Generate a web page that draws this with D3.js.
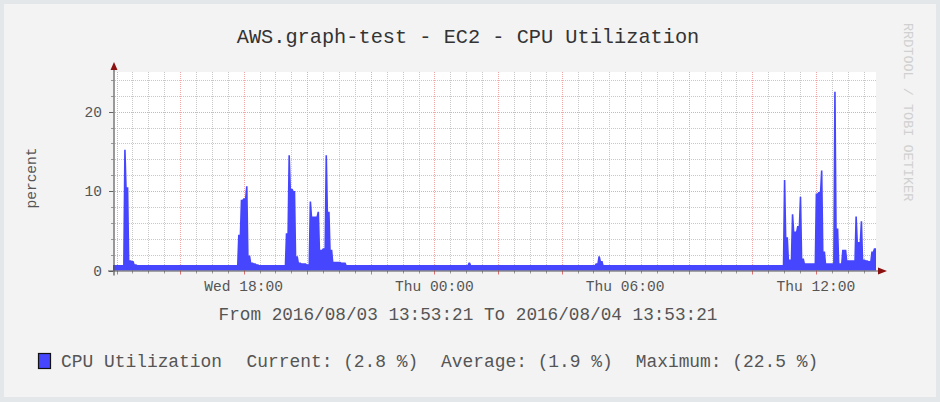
<!DOCTYPE html>
<html><head><meta charset="utf-8">
<script src="https://cdn.jsdelivr.net/npm/d3@7"></script>
<style>
html,body{margin:0;padding:0;background:#e3e7ea;}
svg{display:block;}
text{font-family:"Courier New","Liberation Mono",monospace;}
</style></head><body>
<svg id="c" width="940" height="402"></svg>
<script>
// ---------- data ----------
const chartTitle = "AWS.graph-test - EC2 - CPU Utilization";
const yAxisLabel = "percent";
const seriesName = "CPU Utilization";
const startTime = "2016-08-03T13:53:21";
const endTime = "2016-08-04T13:53:21";
const stepMinutes = 5;
// CPU utilization (%) one value per 5-minute step, 288 steps
const cpuValues = [
  0.7,0.7,0.7,0.7,15.2,10.5,1.3,1.2,0.8,0.7,0.7,0.7,0.7,0.7,0.7,0.7,0.7,0.7,0.7,0.7,0.7,0.7,0.7,0.7,
  0.7,0.7,0.7,0.7,0.7,0.7,0.7,0.7,0.7,0.7,0.7,0.7,0.7,0.7,0.7,0.7,0.7,0.7,0.7,0.7,0.7,0.7,0.7,4.5,
  8.9,9.1,10.6,1.9,1.0,0.9,0.8,0.7,0.7,0.7,0.7,0.7,0.7,0.7,0.7,0.7,0.7,4.7,14.5,10.3,10.0,1.8,1.0,0.9,
  0.9,0.8,8.7,6.8,6.8,7.4,2.6,2.8,14.5,7.4,2.6,1.1,1.1,1.1,1.0,1.0,0.7,0.7,0.7,0.7,0.7,0.7,0.7,0.7,
  0.7,0.7,0.7,0.7,0.7,0.7,0.7,0.7,0.7,0.7,0.7,0.7,0.7,0.7,0.7,0.7,0.7,0.7,0.7,0.7,0.7,0.7,0.7,0.7,
  0.7,0.7,0.7,0.7,0.7,0.7,0.7,0.7,0.7,0.7,0.7,0.7,0.7,0.7,1.0,0.7,0.7,0.7,0.7,0.7,0.7,0.7,0.7,0.7,
  0.7,0.7,0.7,0.7,0.7,0.7,0.7,0.7,0.7,0.7,0.7,0.7,0.7,0.7,0.7,0.7,0.7,0.7,0.7,0.7,0.7,0.7,0.7,0.7,
  0.7,0.7,0.7,0.7,0.7,0.7,0.7,0.7,0.7,0.7,0.7,0.7,0.7,0.7,0.9,1.8,1.2,0.7,0.7,0.7,0.7,0.7,0.7,0.7,
  0.7,0.7,0.7,0.7,0.7,0.7,0.7,0.7,0.7,0.7,0.7,0.7,0.7,0.7,0.7,0.7,0.7,0.7,0.7,0.7,0.7,0.7,0.7,0.7,
  0.7,0.7,0.7,0.7,0.7,0.7,0.7,0.7,0.7,0.7,0.7,0.7,0.7,0.7,0.7,0.7,0.7,0.7,0.7,0.7,0.7,0.7,0.7,0.7,
  0.7,0.7,0.7,0.7,0.7,0.7,0.7,0.7,0.7,0.7,0.7,0.7,0.7,11.4,4.2,1.4,7.1,4.9,5.6,9.3,1.5,0.9,0.9,0.9,
  0.9,9.7,9.9,12.6,2.4,0.9,0.9,0.9,22.5,5.3,0.9,2.6,2.6,1.3,1.3,1.3,6.8,3.6,6.2,1.4,1.3,1.2,2.4,2.8
];
const yTicks = [0, 10, 20];
const yMax = 25;
const xTickTimes = ["2016-08-03T18:00:00","2016-08-04T00:00:00","2016-08-04T06:00:00","2016-08-04T12:00:00"];
const xTickLabels = ["Wed 18:00","Thu 00:00","Thu 06:00","Thu 12:00"];
const statNames = ["Current","Average","Maximum"];
const statValues = [2.8, 1.9, 22.5];
const periodText = "From 2016/08/03 13:53:21 To 2016/08/04 13:53:21";
const watermark = "RRDTOOL / TOBI OETIKER";

// ---------- drawing ----------
const parse = d3.timeParse("%Y-%m-%dT%H:%M:%S");
const t0 = parse(startTime), t1 = parse(endTime);
const svg = d3.select("#c");

const L = 113, R = 876, T = 72, B = 270.5;
const x = d3.scaleTime().domain([t0, t1]).range([L, R]);
const y = d3.scaleLinear().domain([0, yMax]).range([B, T]);

// panel
svg.append("rect").attr("x",0).attr("y",0).attr("width",940).attr("height",402).attr("fill","#e3e7ea");
svg.append("rect").attr("x",4).attr("y",4).attr("width",932).attr("height",393).attr("fill","#f3f3f3");
svg.append("rect").attr("x",L).attr("y",T).attr("width",R-L).attr("height",B-T).attr("fill","#ffffff");

// grid
const minorV = d3.timeMinute.every(30).range(t0, t1);
const majorV = d3.timeHour.every(2).range(t0, t1);
const gMinor = svg.append("g").attr("stroke","#c8c8c8").attr("stroke-dasharray","1,1").attr("stroke-width",1);
minorV.forEach(d=>{
  const px = Math.round(x(d))+0.5;
  gMinor.append("line").attr("x1",px).attr("x2",px).attr("y1",T).attr("y2",B);
});
d3.range(2, yMax+0.1, 2).forEach(v=>{
  if (v % 10 === 0) return;
  const py = Math.round(y(v))+0.5;
  gMinor.append("line").attr("x1",L).attr("x2",R).attr("y1",py).attr("y2",py);
});
const gMajor = svg.append("g").attr("stroke","#f2a6a6").attr("stroke-dasharray","1,1").attr("stroke-width",1);
majorV.forEach(d=>{
  const px = Math.round(x(d))+0.5;
  gMajor.append("line").attr("x1",px).attr("x2",px).attr("y1",T).attr("y2",B);
});
yTicks.filter(v=>v>0).forEach(v=>{
  const py = Math.round(y(v))+0.5;
  gMajor.append("line").attr("x1",L).attr("x2",R).attr("y1",py).attr("y2",py);
});

// area: each sample holds its value over its 5-minute interval, with short soft transitions
const edgeSec = 60; // transition half-width
const series = [];
cpuValues.forEach((v,i)=>{
  const a = d3.timeSecond.offset(t0, i*stepMinutes*60 + (i===0?0:edgeSec));
  const b = d3.timeSecond.offset(t0, (i+1)*stepMinutes*60 - (i===cpuValues.length-1?0:edgeSec));
  series.push({t:a, v}, {t:b, v});
});
const area = d3.area().curve(d3.curveLinear).x(d=>x(d.t)).y0(y(0)).y1(d=>y(d.v));
svg.append("path").datum(series).attr("d", area).attr("fill","#4646ff");

// axis ticks
const gt = svg.append("g").attr("stroke-width",1);
minorV.forEach(d=>{
  const px = Math.round(x(d))+0.5;
  gt.append("line").attr("x1",px).attr("x2",px).attr("y1",B).attr("y2",B+3).attr("stroke","#999");
});
majorV.forEach(d=>{
  const px = Math.round(x(d))+0.5;
  gt.append("line").attr("x1",px).attr("x2",px).attr("y1",B).attr("y2",B+4).attr("stroke","#e07070");
});
d3.range(2, yMax+0.1, 2).forEach(v=>{
  const py = Math.round(y(v))+0.5;
  gt.append("line").attr("x1",L-2).attr("x2",L).attr("y1",py).attr("y2",py).attr("stroke","#999");
});
yTicks.forEach(v=>{
  const py = Math.round(y(v))+0.5;
  gt.append("line").attr("x1",L-4).attr("x2",L).attr("y1",py).attr("y2",py).attr("stroke","#666");
});

// axes lines
svg.append("line").attr("x1",L-5).attr("x2",R+3).attr("y1",B+0.5).attr("y2",B+0.5).attr("stroke","#555").attr("stroke-width",1.2);
svg.append("line").attr("x1",L+1).attr("x2",L+1).attr("y1",B+5).attr("y2",T-5).attr("stroke","#555").attr("stroke-width",1.2);
// arrows
svg.append("path").attr("d",`M${L+1},${T-10} L${L-2.5},${T-2} L${L+4.5},${T-2} Z`).attr("fill","#8b1010");
svg.append("path").attr("d",`M${R+11},${B+0.5} L${R+2},${B-3} L${R+2},${B+4} Z`).attr("fill","#8b1010");

// y labels
svg.append("g").selectAll("text").data(yTicks).join("text")
  .attr("x",102).attr("y",d=>y(d)+5).attr("text-anchor","end")
  .attr("font-size",14.5).attr("fill","#555").text(d=>d);

// x labels
svg.append("g").selectAll("text").data(xTickTimes).join("text")
  .attr("x",d=>x(parse(d))).attr("y",290.5).attr("text-anchor","middle")
  .attr("font-size",14.6).attr("fill","#555").text((d,i)=>xTickLabels[i]);

// y axis title
svg.append("text").attr("transform","translate(36,178) rotate(-90)").attr("text-anchor","middle")
  .attr("font-size",14.5).attr("fill","#555").text(yAxisLabel);

// title
svg.append("text").attr("x",468).attr("y",43).attr("text-anchor","middle")
  .attr("font-size",20.3).attr("fill","#333").text(chartTitle);

// watermark
svg.append("text").attr("transform","translate(904,23) rotate(90)").attr("text-anchor","start")
  .attr("font-size",13.5).attr("fill","#d0d0d0").text(watermark);

// period
svg.append("text").attr("x",468).attr("y",320).attr("text-anchor","middle")
  .attr("font-size",17.7).attr("fill","#555").text(periodText);

// legend
svg.append("rect").attr("x",38.5).attr("y",353.5).attr("width",12).attr("height",15)
  .attr("fill","#4646ff").attr("stroke","#111").attr("stroke-width",1.2);
const legendItems = [seriesName].concat(statNames.map((n,i)=>`${n}: (${statValues[i]} %)`));
const legendX = [61, 246.5, 441, 635.7];
svg.append("g").selectAll("text").data(legendItems).join("text")
  .attr("x",(d,i)=>legendX[i]).attr("y",367).attr("font-size",17.9).attr("fill","#555").text(d=>d);
</script>
</body></html>
